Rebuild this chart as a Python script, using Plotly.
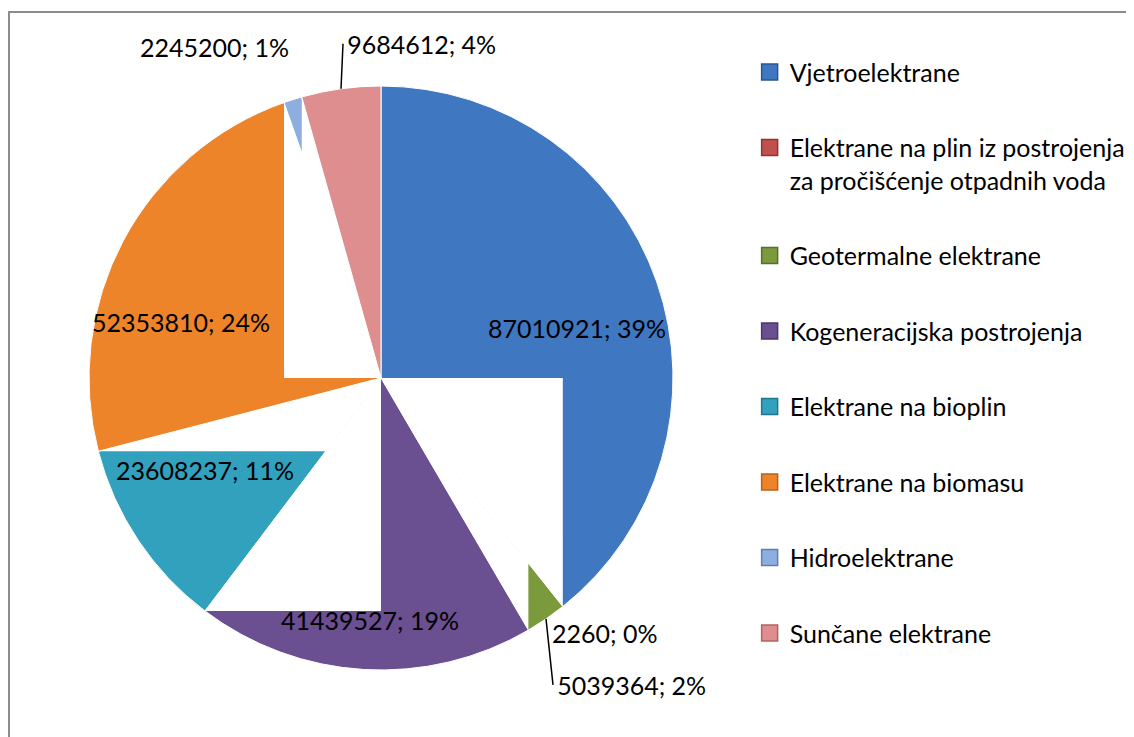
import math
import plotly.graph_objects as go

categories = [
    "Vjetroelektrane",
    "Elektrane na plin iz postrojenja<br>za pročišćenje otpadnih voda",
    "Geotermalne elektrane",
    "Kogeneracijska postrojenja",
    "Elektrane na bioplin",
    "Elektrane na biomasu",
    "Hidroelektrane",
    "Sunčane elektrane",
]
values = [87010921, 2260, 5039364, 41439527, 23608237, 52353810, 2245200, 9684612]
colors = ["#3F78C0", "#C0504D", "#7B9A3C", "#6A4F91", "#31A1BE", "#EE8429", "#8EAEE0", "#DE8E8E"]
legend_edge = ["#2A558F", "#8E3431", "#56702A", "#4B3768", "#237690", "#B8621C", "#607EAE", "#AE6464"]

# label placement styles (per slice): radial fraction, pixel shift, leader line
label_k = [0.70, 1.0, 1.0, 0.70, 0.70, 0.70, 1.0, 1.0]
label_shift = [(3, 17), (42, 26), (7, 66), (1, 38), (-6, -21), (-20, 40), (-78, -53), (2, -45)]
label_leader = [False, False, True, False, False, False, False, True]

FONT = "Lato, Carlito, Calibri, sans-serif"
FS = 25
W, H = 1134, 737
cx, cy, r = 373, 370, 292   # pie centre / radius in figure pixels


def px(x):
    return x / W


def py(y):
    return 1 - y / H


fig = go.Figure()
fig.add_trace(go.Pie(
    labels=categories,
    values=values,
    sort=False,
    direction="clockwise",
    rotation=0,
    marker=dict(colors=colors, line=dict(color="white", width=1)),
    textinfo="none",
    showlegend=False,
    hoverinfo="label+value+percent",
    domain=dict(x=[px(cx - r), px(cx + r)], y=[py(cy + r), py(cy - r)]),
))

for i, (name, col, edge) in enumerate(zip(categories, colors, legend_edge)):
    fig.add_trace(go.Scatter(
        x=[None], y=[None], mode="markers", name=name,
        legendgroup=f"g{i}",
        marker=dict(symbol="square", size=16, color=col, line=dict(color=edge, width=1.5)),
    ))

total = sum(values)
angles = []
acc = 0
for v in values:
    a0 = 360 * acc / total
    acc += v
    a1 = 360 * acc / total
    angles.append((a0, a1))


def pt(theta, rad):
    t = math.radians(theta)
    return cx + rad * math.sin(t), cy - rad * math.cos(t)


# data labels
annotations = []
for i, v in enumerate(values):
    a0, a1 = angles[i]
    mid = (a0 + a1) / 2
    x, y = pt(mid, label_k[i] * r)
    dx, dy = label_shift[i]
    txt = f"{v}; {round(100 * v / total)}%"
    if label_leader[i]:
        annotations.append(dict(
            x=px(x), y=py(y), xref="paper", yref="paper", text="\u2009" + txt,
            showarrow=True, arrowhead=0, arrowwidth=1.5, arrowcolor="black",
            ax=dx, ay=dy, standoff=0, startstandoff=0,
            xanchor="left", yanchor="middle", borderpad=0,
            font=dict(family=FONT, size=FS, color="black"),
        ))
    else:
        annotations.append(dict(
            x=px(x + dx), y=py(y + dy), xref="paper", yref="paper", text=txt,
            showarrow=False, xanchor="center", yanchor="middle",
            font=dict(family=FONT, size=FS, color="black"),
        ))


# rendering artefact of the original: each slice loses the box spanned by
# the centre and the slice's end point on the rim
def clip(poly, keep):
    out = []
    n = len(poly)
    for j in range(n):
        p, q = poly[j], poly[(j + 1) % n]
        fp, fq = keep(p), keep(q)
        if fp >= 0:
            out.append(p)
        if (fp >= 0) != (fq >= 0):
            t = fp / (fp - fq)
            out.append((p[0] + t * (q[0] - p[0]), p[1] + t * (q[1] - p[1])))
    return out


shapes = []
for i in range(len(values)):
    a0, a1 = angles[i]
    if a1 - a0 < 0.5:
        continue
    ex, ey = pt(a1, r)
    x0, x1 = sorted((cx, ex))
    y0, y1 = sorted((cy, ey))
    if x1 - x0 < 1 or y1 - y0 < 1:
        continue
    poly = [(x0, y0), (x1, y0), (x1, y1), (x0, y1)]
    da = (math.sin(math.radians(a0)), -math.cos(math.radians(a0)))
    db = (math.sin(math.radians(a1)), -math.cos(math.radians(a1)))
    poly = clip(poly, lambda p: da[0] * (p[1] - cy) - da[1] * (p[0] - cx))
    if len(poly) < 3:
        continue
    poly = clip(poly, lambda p: -(db[0] * (p[1] - cy) - db[1] * (p[0] - cx)))
    if len(poly) < 3:
        continue
    path = "M " + " L ".join(f"{px(x):.5f},{py(y):.5f}" for x, y in poly) + " Z"
    shapes.append(dict(type="path", xref="paper", yref="paper", path=path,
                       fillcolor="white", line=dict(width=0), layer="above"))

shapes.append(dict(
    type="rect", xref="paper", yref="paper",
    x0=1 / W, x1=1.2, y0=-0.2, y1=1 - 4 / H,
    line=dict(color="#8C8C8C", width=2), fillcolor="rgba(0,0,0,0)",
))

fig.update_layout(
    width=W, height=H,
    margin=dict(l=0, r=0, t=0, b=0),
    paper_bgcolor="white",
    plot_bgcolor="white",
    font=dict(family=FONT, size=FS, color="black"),
    xaxis=dict(visible=False),
    yaxis=dict(visible=False),
    legend=dict(
        x=0.654, y=0.944, xanchor="left", yanchor="top",
        tracegroupgap=40,
        valign="top",
        font=dict(family=FONT, size=FS, color="black"),
        itemwidth=30,
        bgcolor="rgba(0,0,0,0)",
    ),
    annotations=annotations,
    shapes=shapes,
)

fig.write_html("out.html")
